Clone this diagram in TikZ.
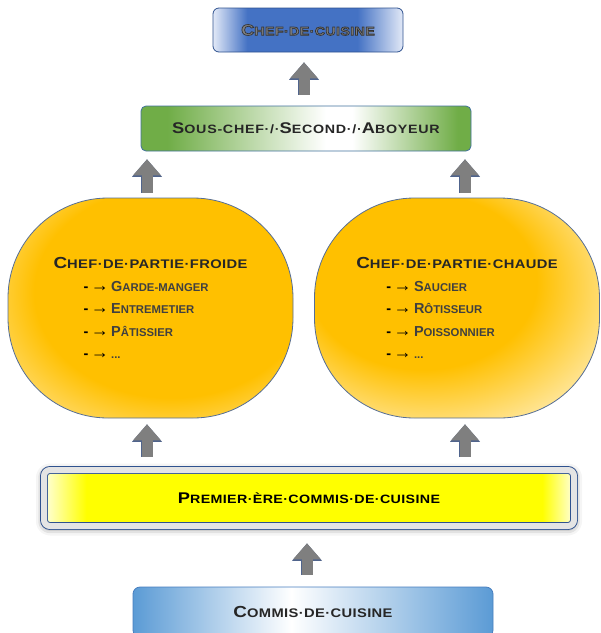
\documentclass[tikz,border=0pt]{standalone}
\usepackage{fontspec}
\setmainfont{Liberation Sans}
\newfontfamily\widefont[FakeStretch=1.18,LetterSpace=3]{Liberation Sans}
\usetikzlibrary{arrows.meta,shadows.blur}

\definecolor{chefblue}{RGB}{68,114,196}
\definecolor{chefpale}{RGB}{226,233,247}
\definecolor{chefedge}{RGB}{47,82,143}
\definecolor{chefgray}{RGB}{128,128,128}
\definecolor{sousgreen}{RGB}{112,173,71}
\definecolor{sousedge}{RGB}{65,113,156}
\definecolor{blobgold}{RGB}{255,192,0}
\definecolor{blobpale}{RGB}{255,243,205}
\definecolor{blobedge}{RGB}{86,110,150}
\definecolor{premyellow}{RGB}{255,255,0}
\definecolor{prempale}{RGB}{255,255,222}
\definecolor{frameedge}{RGB}{47,82,143}
\definecolor{rimgray}{RGB}{228,228,228}
\definecolor{commisblue}{RGB}{91,155,213}
\definecolor{commisedge}{RGB}{70,125,190}
\definecolor{arrowgray}{RGB}{127,127,127}
\definecolor{arrowedge}{RGB}{80,100,140}
\definecolor{darktext}{RGB}{38,38,38}
\definecolor{itemgray}{RGB}{64,64,64}

% ombres
\pgfdeclarehorizontalshading{chefshade}{100bp}{color(0bp)=(chefpale); color(25bp)=(chefpale);
  color(34bp)=(chefblue); color(63bp)=(chefblue); color(75bp)=(chefpale); color(100bp)=(chefpale)}
\pgfdeclarehorizontalshading{sousshade}{100bp}{color(0bp)=(sousgreen); color(29bp)=(sousgreen);
  color(53bp)=(white); color(57bp)=(white); color(73bp)=(sousgreen); color(100bp)=(sousgreen)}
\pgfdeclarehorizontalshading{premiershade}{100bp}{color(0bp)=(prempale); color(25bp)=(prempale);
  color(29bp)=(premyellow); color(72bp)=(premyellow); color(75bp)=(prempale); color(100bp)=(prempale)}
\pgfdeclarehorizontalshading{commisshade}{100bp}{color(0bp)=(commisblue); color(25bp)=(commisblue);
  color(47bp)=(white); color(75bp)=(commisblue); color(100bp)=(commisblue)}
\pgfdeclareradialshading{froideshade}{\pgfpoint{6bp}{6bp}}{color(0bp)=(blobgold); color(24bp)=(blobgold);
  color(42bp)=(blobpale); color(60bp)=(blobpale)}
\pgfdeclareradialshading{chaudeshade}{\pgfpoint{-9bp}{9bp}}{color(0bp)=(blobgold); color(20bp)=(blobgold);
  color(38bp)=(blobpale); color(60bp)=(blobpale)}

\makeatletter
\newcommand\smc[1]{{\fontsize{\dimexpr0.78\dimexpr\f@size pt\relax\relax}{\f@baselineskip}\selectfont#1}}
\makeatother
% texte au contour sombre
\newcommand\outlined[1]{\special{pdf:literal direct 2 Tr 0.7 w 0.2 0.2 0.2 RG}#1\special{pdf:literal direct 0 Tr}}
% puce des listes
\newcommand\puce{\hspace*{30pt}{\color{black}-\,{\fontsize{18}{22.5}\selectfont →}}\,}

\begin{document}
\begin{tikzpicture}[x=1pt,y=-1pt,
    chefbox/.style={rectangle, rounded corners=6pt, draw=chefedge, line width=0.8pt, shading=chefshade,
      minimum width=190pt, minimum height=44pt, text=chefgray, font=\widefont\bfseries\fontsize{15.5}{18}\selectfont},
    sousbox/.style={rectangle, rounded corners=5pt, draw=sousedge, line width=0.8pt, shading=sousshade,
      minimum width=330pt, minimum height=45pt, text=darktext,
      font=\widefont\addfontfeature{LetterSpace=6}\bfseries\fontsize{15.5}{18}\selectfont},
    blob/.style={rectangle, rounded corners=100pt, draw=blobedge, line width=0.8pt,
      minimum width=285pt, minimum height=220pt, align=left, text=itemgray,
      font=\bfseries\fontsize{14.5}{22.5}\selectfont},
    premierbox/.style={rectangle, rounded corners=6pt, draw=frameedge, line width=0.9pt,
      double=rimgray, double distance=6pt, shading=premiershade,
      blur shadow={shadow xshift=0pt, shadow yshift=-1.5pt, shadow blur radius=8pt, shadow opacity=60},
      minimum width=530pt, minimum height=56pt, text=black, font=\widefont\bfseries\fontsize{15.5}{18}\selectfont},
    commisbox/.style={rectangle, rounded corners=7pt, draw=commisedge, line width=0.8pt, shading=commisshade,
      minimum width=360pt, minimum height=50pt, text=darktext, font=\widefont\bfseries\fontsize{16}{18}\selectfont},
    blockarrow/.style={draw=arrowgray, line width=11pt,
      -{Triangle[width=28pt,length=16pt,line width=0pt]},
      preaction={draw=arrowedge, line width=12.4pt,
        -{Triangle[width=30pt,length=17.4pt,line width=0pt]}}}]
  \useasboundingbox (0,0) rectangle (601,633);

  \node[chefbox] (chef) at (308,30) {\outlined{C\smc{HEF·DE·CUISINE}}};
  \node[sousbox] (sous) at (306,128.5) {S\smc{OUS-CHEF·/·}S\smc{ECOND·/·}A\smc{BOYEUR}};

  \node[blob, shading=froideshade] (froide) at (150.5,308) {%
    {\widefont\fontsize{16}{22.5}\selectfont\color{darktext}C\smc{HEF·DE·PARTIE·FROIDE}}\\
    \puce G\smc{ARDE-MANGER}\\
    \puce E\smc{NTREMETIER}\\
    \puce P\smc{ÂTISSIER}\\
    \puce \smc{...}};
  \node[blob, shading=chaudeshade] (chaude) at (457,308) {%
    {\widefont\fontsize{16}{22.5}\selectfont\color{darktext}C\smc{HEF·DE·PARTIE·CHAUDE}}\\
    \puce S\smc{AUCIER}\\
    \puce R\smc{ÔTISSEUR}\\
    \puce P\smc{OISSONNIER}\\
    \puce \smc{...}};

  \node[premierbox] (premier) at (309,498) {P\smc{REMIER·ÈRE·COMMIS·DE·CUISINE}};
  \node[commisbox] (commis) at (313,612) {C\smc{OMMIS·DE·CUISINE}};

  % colonnes des flèches
  \coordinate (leftcol) at (147,0);
  \coordinate (rightcol) at (465,0);
  \coordinate (midcol) at (304,0);
  \coordinate (lowcol) at (307,0);

  \draw[blockarrow, shorten <=11pt, shorten >=10pt] (sous.north -| midcol) -- (chef.south -| midcol);
  \draw[blockarrow, shorten <=5pt, shorten >=8pt] (froide.north -| leftcol) -- (sous.south -| leftcol);
  \draw[blockarrow, shorten <=5pt, shorten >=8pt] (chaude.north -| rightcol) -- (sous.south -| rightcol);
  \draw[blockarrow, shorten <=13pt, shorten >=6pt] (premier.north -| leftcol) -- (froide.south -| leftcol);
  \draw[blockarrow, shorten <=13pt, shorten >=6pt] (premier.north -| rightcol) -- (chaude.south -| rightcol);
  \draw[blockarrow, shorten <=12pt, shorten >=17pt] (commis.north -| lowcol) -- (premier.south -| lowcol);
\end{tikzpicture}
\end{document}
